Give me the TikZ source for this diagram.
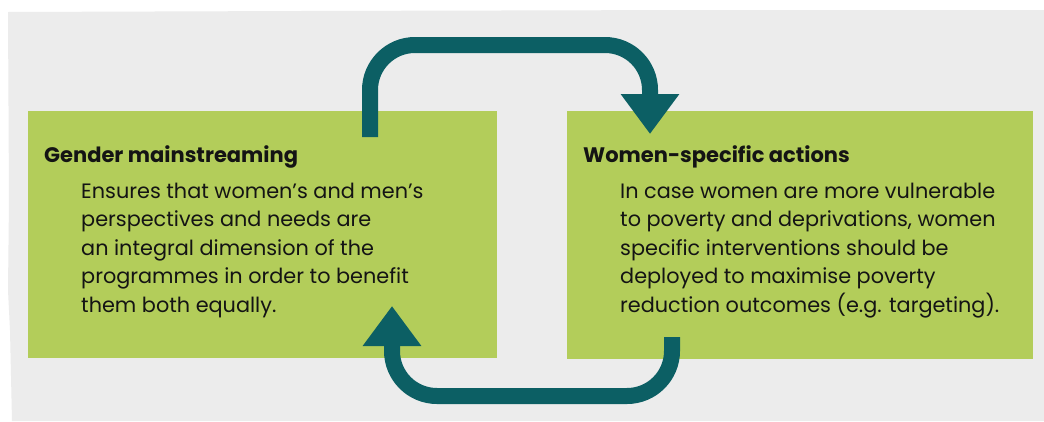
\documentclass[tikz,border=0pt]{standalone}
\usepackage{fontspec}
\setmainfont{Poppins}
\usetikzlibrary{arrows.meta}
\definecolor{bggrey}{HTML}{ECECEC}
\definecolor{boxgreen}{HTML}{B3CD5A}
\definecolor{arrowteal}{HTML}{0C5F64}
\definecolor{inkblack}{HTML}{141414}
\tikzset{
  greenbox/.style={fill=boxgreen, draw=none, inner sep=0pt, anchor=north west},
  headtext/.style={font=\fontsize{21}{24}\selectfont\bfseries, text=inkblack, inner sep=0pt, anchor=base west},
  bodytext/.style={font=\fontsize{20.8}{28.5}\selectfont, text=inkblack, inner sep=0pt, align=left, anchor=base west},
  flow/.style={draw=arrowteal, line width=16pt, rounded corners=45pt, -{Triangle[width=56pt,length=40pt]}}
}
\begin{document}
\begin{tikzpicture}[x=1pt,y=-1pt]
\useasboundingbox (0,0) rectangle (1044,421);
\fill[white] (0,0) rectangle (1044,421);
\fill[bggrey] (8,12) -- (300,11) -- (700,10) -- (1044,10) -- (1044,421) -- (12,421) -- (10,330) -- (8,290) -- (9,200) -- cycle;

\node[greenbox, minimum width=469pt, minimum height=247pt] (leftbox) at (28,111) {};
\node[greenbox, minimum width=466pt, minimum height=248pt] (rightbox) at (567,111) {};

\node[headtext] (gmhead) at (44,162) {Gender mainstreaming};
\node[bodytext] (gmbody) at (81,312) {Ensures that women’s and men’s\\perspectives and needs are\\an integral dimension of the\\programmes in order to benefit\\them both equally.};

\node[headtext] (wshead) at (583,162) {Women-specific actions};
\node[bodytext] (wsbody) at (620,312) {In case women are more vulnerable\\to poverty and deprivations, women\\specific interventions should be\\deployed to maximise poverty\\reduction outcomes (e.g. targeting).};

\coordinate (topstart) at (370,137);
\coordinate (topend) at (650,134);
\coordinate (botstart) at (672,337);
\coordinate (botend) at (392,306);
\draw[flow] (topstart) -- ++(0,-92) -| (topend);
\draw[flow] (botstart) -- ++(0,59) -| (botend);
\end{tikzpicture}
\end{document}
